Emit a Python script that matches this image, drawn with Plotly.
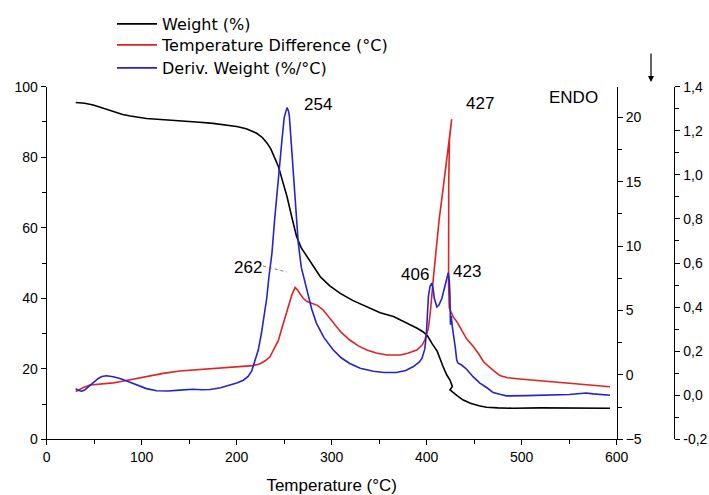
import plotly.graph_objects as go

# Thermogravimetric / DTA run: weight, temperature difference and derivative weight vs temperature
temp_weight = [30.5, 40, 49, 60, 70, 80, 88, 105, 120, 140, 161, 175, 190, 200, 210, 214, 221, 227,
               232, 236, 240, 244, 248, 253, 258, 263, 268, 274, 280, 288, 298, 309, 322, 337, 351,
               365, 373, 382, 390, 396, 401, 406, 411, 417, 421, 424.5, 427, 424.5, 428, 432, 438,
               446, 455, 463, 475, 491, 520, 560, 593]
weight = [95.5, 95.3, 94.8, 93.9, 92.9, 92.1, 91.7, 91.0, 90.7, 90.4, 89.9, 89.6, 89.1, 88.7, 88.1,
          87.7, 86.8, 85.6, 84.0, 82.3, 80.0, 77.3, 73.5, 68.8, 63.0, 57.5, 54.3, 51.8, 49.3, 46.1,
          43.5, 41.4, 39.4, 37.6, 35.9, 34.8, 33.8, 32.7, 31.5, 30.5, 29.3, 27.0, 25.0, 20.8, 18.3,
          16.8, 15.0, 14.0, 13.2, 12.4, 11.2, 10.2, 9.5, 9.1, 8.9, 8.8, 8.9, 8.8, 8.8]

temp_dta = [30.5, 38, 45.6, 55, 63, 70, 77, 88, 98, 110, 122.7, 140, 161, 175, 195, 207, 217, 224,
            230, 235, 240, 244, 246, 250, 254, 258, 261.5, 264, 266.6, 270, 274, 280, 285, 291,
            296, 302, 310, 319, 328, 337, 347, 358, 372, 380, 389.5, 395, 398, 401.7, 404, 407,
            410, 413, 417.5, 421, 424, 426.3, 424, 423.2, 422.8, 423, 423.8, 426, 428, 432, 437,
            442, 449, 455, 460, 465, 471, 477, 485, 498, 520, 544, 570, 593]
temp_diff = [-1.3, -1.0, -0.78, -0.72, -0.71, -0.62, -0.53, -0.37, -0.22, -0.05, 0.12, 0.30, 0.40,
             0.48, 0.58, 0.64, 0.72, 0.85, 1.1, 1.41, 2.1, 2.7, 3.23, 4.2, 5.3, 6.2, 6.8, 6.6, 6.3,
             5.95, 5.7, 5.56, 5.4, 5.04, 4.6, 4.0, 3.3, 2.71, 2.25, 1.93, 1.7, 1.55, 1.55, 1.68,
             1.93, 2.3, 2.71, 3.6, 5.0, 7.5, 9.8, 12.0, 14.6, 16.8, 18.8, 19.85, 18.3, 15.0, 10.0,
             7.0, 5.2, 4.8, 4.5, 4.1, 3.5, 2.8, 2.2, 1.6, 1.0, 0.65, 0.3, -0.05, -0.22, -0.32,
             -0.45, -0.61, -0.77, -0.92]

temp_dtg = [30.5, 33, 36.8, 40, 43.8, 49, 54.3, 58, 63, 70, 77, 85, 94.7, 105, 115.8, 128, 140, 154,
            163, 172, 183, 193, 200, 207, 212, 215.8, 219, 222.7, 226, 229, 231.6, 234, 237, 240,
            242, 244.8, 247.4, 250, 251.5, 253, 254.5, 255.4, 257, 259.6, 262, 264.8, 268, 273.7,
            279, 284, 292, 301.7, 310, 319, 330, 343.8, 355, 368, 378, 386, 392, 395, 398, 399.5,
            400.5, 401.8, 403.5, 405.3, 406.5, 408, 410.7, 413, 416, 419.3, 421.5, 422.7, 423.8,
            424.5, 425, 425.8, 427, 428.5, 430, 431.6, 433, 436.8, 442, 449, 456, 463, 470, 477,
            484, 505, 526, 550, 568, 575, 593]
deriv_weight = [0.030, 0.022, 0.018, 0.024, 0.038, 0.058, 0.076, 0.085, 0.088, 0.084, 0.076, 0.063,
                0.046, 0.030, 0.020, 0.019, 0.023, 0.027, 0.025, 0.026, 0.034, 0.046, 0.055, 0.068,
                0.085, 0.11, 0.15, 0.205, 0.28, 0.37, 0.44, 0.54, 0.64, 0.80, 0.90, 1.03, 1.147,
                1.26, 1.29, 1.305, 1.29, 1.268, 1.17, 0.995, 0.84, 0.691, 0.58, 0.479, 0.39, 0.326,
                0.26, 0.205, 0.17, 0.144, 0.122, 0.109, 0.103, 0.103, 0.112, 0.13, 0.15, 0.167,
                0.21, 0.27, 0.35, 0.448, 0.495, 0.509, 0.49, 0.44, 0.40, 0.41, 0.44, 0.494, 0.53,
                0.556, 0.52, 0.45, 0.32, 0.36, 0.31, 0.27, 0.22, 0.16, 0.145, 0.137, 0.118, 0.083,
                0.055, 0.035, 0.012, 0.004, -0.003, -0.002, 0.0, 0.003, 0.010, 0.006, 0.0]

x_ticks = [0, 100, 200, 300, 400, 500, 600]
weight_ticks = [0, 20, 40, 60, 80, 100]
dta_ticks = [-5, 0, 5, 10, 15, 20]
dtg_ticks = [-0.2, 0.0, 0.2, 0.4, 0.6, 0.8, 1.0, 1.2, 1.4]
dtg_labels = ["-0,2", "0,0", "0,2", "0,4", "0,6", "0,8", "1,0", "1,2", "1,4"]

peak_labels = [("254", 318, 104), ("427", 480, 103), ("ENDO", 573, 97),
               ("262", 248, 267), ("406", 415, 274), ("423", 467, 271)]

W, H = 709, 495
FONT = "Liberation Sans, Arial, sans-serif"
LEGEND_FONT = "DejaVu Sans, Verdana, sans-serif"
BLACK, RED, BLUE = "#000000", "#e02222", "#2323cf"

fig = go.Figure()
fig.add_trace(go.Scatter(x=temp_weight, y=weight, mode="lines", name="Weight (%)",
                         line=dict(color=BLACK, width=1.6), yaxis="y", legend="legend"))
fig.add_trace(go.Scatter(x=temp_dta, y=temp_diff, mode="lines", name="Temperature Difference (°C)",
                         line=dict(color=RED, width=1.6), yaxis="y2", legend="legend2"))
fig.add_trace(go.Scatter(x=temp_dtg, y=deriv_weight, mode="lines", name="Deriv. Weight (%/°C)",
                         line=dict(color=BLUE, width=1.6), yaxis="y3", legend="legend3"))

x0, x1 = 46.7, 616.7
ytop, ybot = 86.7, 439.3
dom_x = [x0 / W, x1 / W]
dom_y = [1 - ybot / H, 1 - ytop / H]

axis_common = dict(showline=True, linecolor=BLACK, linewidth=1.3, ticks="outside",
                   tickcolor=BLACK, tickwidth=1.2, ticklen=5, showgrid=False, zeroline=False,
                   tickfont=dict(family=FONT, size=14, color=BLACK))


def legend_row(center_y):
    # one legend box per series so the rows sit at their own heights
    return dict(x=112 / W, y=1 - center_y / H, xanchor="left", yanchor="middle",
                bgcolor="rgba(0,0,0,0)", font=dict(family=LEGEND_FONT, size=16, color=BLACK),
                itemwidth=40)


fig.update_layout(
    width=W, height=H,
    margin=dict(l=0, r=0, t=0, b=0, autoexpand=False),
    paper_bgcolor="white", plot_bgcolor="white",
    font=dict(family=FONT, color=BLACK),
    xaxis=dict(domain=dom_x, range=[0, 600], tickvals=x_ticks,
               minor=dict(ticks="outside", dtick=50, ticklen=4, tickcolor=BLACK, tickwidth=1.2),
               title=dict(text="Temperature (°C)", font=dict(family=FONT, size=17), standoff=14),
               anchor="y", **axis_common),
    yaxis=dict(domain=dom_y, range=[0, 100], tickvals=weight_ticks,
               minor=dict(ticks="outside", dtick=10, ticklen=4, tickcolor=BLACK, tickwidth=1.2),
               anchor="x", **axis_common),
    yaxis2=dict(range=[-5, 22.38], tickvals=dta_ticks, overlaying="y", side="right", anchor="x",
                minor=dict(ticks="outside", dtick=2.5, ticklen=4, tickcolor=BLACK, tickwidth=1.2),
                **axis_common),
    yaxis3=dict(range=[-0.2, 1.4], tickvals=dtg_ticks, ticktext=dtg_labels, overlaying="y",
                side="right", anchor="free", position=674.3 / W,
                minor=dict(ticks="outside", dtick=0.1, ticklen=4, tickcolor=BLACK, tickwidth=1.2),
                **axis_common),
    legend=legend_row(24),
    legend2=legend_row(45),
    legend3=legend_row(68),
    showlegend=True,
)

for text, px, py in peak_labels:
    fig.add_annotation(x=px / W, y=1 - py / H, xref="paper", yref="paper", text=text,
                       showarrow=False, font=dict(family=FONT, size=17, color=BLACK),
                       xanchor="center", yanchor="middle")

# dotted leader from the 262 label to the curve
fig.add_shape(type="line", xref="paper", yref="paper",
              x0=263 / W, y0=1 - 266 / H, x1=287 / W, y1=1 - 272 / H,
              line=dict(color="#555555", width=0.8, dash="dot"))

# downward arrow above the DTA axis marking endotherm direction
fig.add_annotation(x=651 / W, y=1 - 82 / H, xref="paper", yref="paper", text="",
                   showarrow=True, ax=0, ay=-30, arrowhead=2, arrowsize=1, arrowwidth=1.2,
                   arrowcolor=BLACK)

fig.write_html("out.html")
